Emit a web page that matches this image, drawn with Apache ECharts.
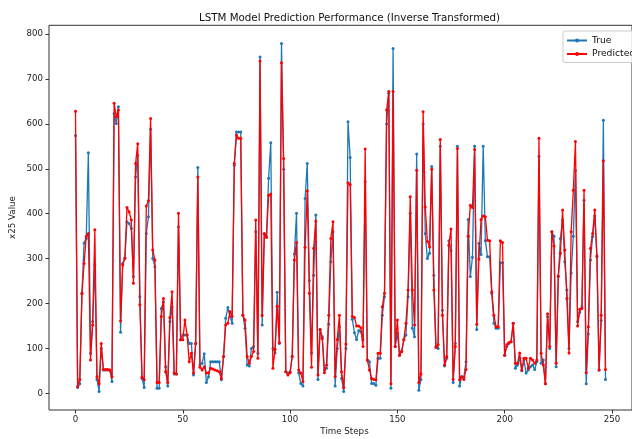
<!DOCTYPE html>
<html lang="en">
<head>
    <meta charset="UTF-8">
    <title>LSTM Model Prediction Performance</title>
    <script type="text/javascript" src="https://cdn.jsdelivr.net/npm/echarts@6/dist/echarts.min.js"></script>
    <style>
        html, body { margin: 0; padding: 0; background: #fff; }
        #charts { width: 632px; height: 439px; }
    </style>
</head>
<body>
<div id="charts"></div>
<script>
    // values, one per time step (0..247)
    var trueVals = [
        574, 13, 21, 222, 335, 345, 536, 89, 160, 286,
        31, 4, 100, 52, 52, 52, 52, 26, 623, 601,
        638, 136, 289, 302, 382, 378, 367, 260, 482, 530,
        215, 33, 13, 356, 393, 588, 300, 282, 11, 11,
        189, 204, 59, 16, 160, 193, 43, 43, 371, 119,
        130, 130, 130, 111, 111, 41, 111, 503, 63, 67,
        88, 24, 37, 70, 70, 70, 70, 70, 30, 82,
        167, 191, 171, 156, 508, 582, 582, 582, 174, 145,
        63, 61, 100, 104, 360, 89, 749, 152, 355, 350,
        479, 558, 100, 90, 225, 111, 779, 499, 48, 45,
        48, 82, 310, 401, 45, 22, 16, 434, 512, 251,
        90, 263, 397, 31, 142, 126, 52, 56, 154, 293,
        360, 16, 100, 148, 33, 4, 100, 605, 525, 165,
        135, 120, 140, 137, 119, 471, 74, 70, 22, 22,
        18, 78, 78, 174, 215, 600, 668, 11, 768, 104,
        134, 85, 93, 119, 130, 215, 401, 145, 126, 533,
        7, 31, 600, 356, 300, 312, 505, 263, 104, 100,
        550, 185, 61, 78, 340, 318, 24, 111, 550, 16,
        37, 36, 70, 387, 260, 303, 550, 142, 334, 309,
        550, 340, 304, 304, 223, 156, 145, 145, 291, 291,
        85, 104, 111, 115, 156, 56, 63, 78, 50, 74,
        45, 52, 59, 63, 53, 70, 528, 67, 74, 21,
        171, 100, 360, 350, 59, 260, 345, 386, 293, 230,
        100, 268, 350, 496, 160, 180, 193, 430, 21, 132,
        297, 349, 395, 304, 52, 162, 608, 31
    ]
    var predVals = [
        628, 15, 31, 222, 289, 349, 356, 74, 152, 364,
        37, 21, 111, 53, 53, 53, 52, 37, 646, 616,
        631, 161, 286, 300, 414, 404, 386, 245, 512, 556,
        197, 36, 30, 417, 429, 612, 319, 297, 24, 24,
        171, 211, 48, 24, 169, 226, 45, 43, 401, 119,
        119, 163, 130, 70, 89, 45, 111, 482, 58, 52,
        59, 45, 45, 56, 54, 52, 50, 48, 33, 82,
        152, 156, 182, 171, 512, 575, 568, 568, 174, 163,
        82, 67, 82, 93, 386, 78, 740, 173, 356, 347,
        441, 444, 56, 98, 194, 113, 736, 523, 48, 41,
        46, 82, 297, 336, 52, 45, 26, 325, 451, 223,
        58, 323, 384, 41, 142, 122, 46, 63, 174, 345,
        382, 37, 120, 174, 48, 13, 110, 469, 465, 171,
        169, 150, 150, 146, 104, 544, 74, 52, 33, 31,
        30, 89, 89, 193, 223, 631, 672, 21, 672, 104,
        163, 85, 93, 119, 156, 230, 438, 230, 152, 497,
        24, 43, 627, 415, 338, 326, 499, 230, 102, 108,
        565, 174, 63, 82, 330, 366, 31, 104, 545, 30,
        37, 31, 53, 350, 419, 414, 543, 154, 299, 387,
        395, 393, 341, 340, 226, 174, 148, 148, 340, 336,
        85, 108, 113, 115, 156, 67, 67, 90, 52, 78,
        78, 56, 78, 74, 67, 74, 568, 89, 63, 21,
        177, 104, 360, 328, 67, 261, 312, 408, 319, 211,
        90, 360, 452, 561, 150, 187, 189, 452, 46, 148,
        323, 356, 408, 306, 52, 174, 518, 53
    ]
    var xTicks = [0, 50, 100, 150, 200, 250]
    var yTicks = [0, 100, 200, 300, 400, 500, 600, 700, 800]
    var seriesNames = ["True", "Predicted"]

    function pairs(vals) {
        var out = []
        for (var i = 0; i < vals.length; i++) {
            out.push([i, vals[i]])
        }
        return out
    }

    var font = "DejaVu Sans"
    var chart = echarts.init(document.getElementById("charts"), null, {renderer: 'canvas'})
    chart.setOption({
        animation: false,
        backgroundColor: '#fff',
        title: {
            text: "LSTM Model Prediction Performance (Inverse Transformed)",
            left: 344.5,
            top: 8,
            textAlign: 'center',
            textStyle: {fontFamily: font, fontSize: 10.3, fontWeight: 'normal', color: '#111'}
        },
        legend: {
            data: seriesNames,
            orient: 'vertical',
            left: 563,
            top: 31,
            padding: [4, 6, 3, 3],
            itemGap: 2.5,
            itemWidth: 20,
            itemHeight: 5,
            borderColor: '#cccccc',
            borderWidth: 1,
            borderRadius: 2,
            backgroundColor: 'rgba(255,255,255,0.8)',
            textStyle: {fontFamily: font, fontSize: 9.2, color: '#111', lineHeight: 11}
        },
        grid: {left: 49, top: 25.3, right: -8, bottom: 29, show: true, borderColor: '#333', borderWidth: 1},
        xAxis: {
            type: 'value',
            min: -12.35,
            max: 259.35,
            axisLine: {show: false, onZero: false},
            splitLine: {show: false},
            axisTick: {show: true, length: 3.5, customValues: xTicks, lineStyle: {color: '#333'}},
            axisLabel: {customValues: xTicks, margin: 5, fontFamily: font, fontSize: 8.6, color: '#222'}
        },
        yAxis: {
            type: 'value',
            min: -37.2,
            max: 819.6,
            axisLine: {show: false, onZero: false},
            splitLine: {show: false},
            axisTick: {show: true, length: 3.5, customValues: yTicks, lineStyle: {color: '#333'}},
            axisLabel: {customValues: yTicks, margin: 6, fontFamily: font, fontSize: 8.6, color: '#222'}
        },
        graphic: [
            {
                type: 'text',
                style: {text: "Time Steps", x: 344.5, y: 432, textAlign: 'center', textVerticalAlign: 'middle',
                    font: "8.7px 'DejaVu Sans'", fill: '#222'}
            },
            {
                type: 'text', x: 13, y: 217.5, rotation: Math.PI / 2,
                style: {text: "x25 Value", x: 0, y: 0, textAlign: 'center', textVerticalAlign: 'middle',
                    font: "8.7px 'DejaVu Sans'", fill: '#222'}
            }
        ],
        series: [
            {
                name: seriesNames[0],
                type: 'line',
                data: pairs(trueVals),
                color: '#1f77b4',
                symbol: 'circle',
                symbolSize: 3,
                showAllSymbol: true,
                lineStyle: {width: 1.3, color: '#1f77b4'},
                itemStyle: {color: '#1f77b4'},
                z: 2
            },
            {
                name: seriesNames[1],
                type: 'line',
                data: pairs(predVals),
                color: '#ff0000',
                symbol: 'circle',
                symbolSize: 3,
                showAllSymbol: true,
                lineStyle: {width: 1.3, color: '#ff0000'},
                itemStyle: {color: '#ff0000'},
                z: 3
            }
        ]
    })
</script>
</body>
</html>
